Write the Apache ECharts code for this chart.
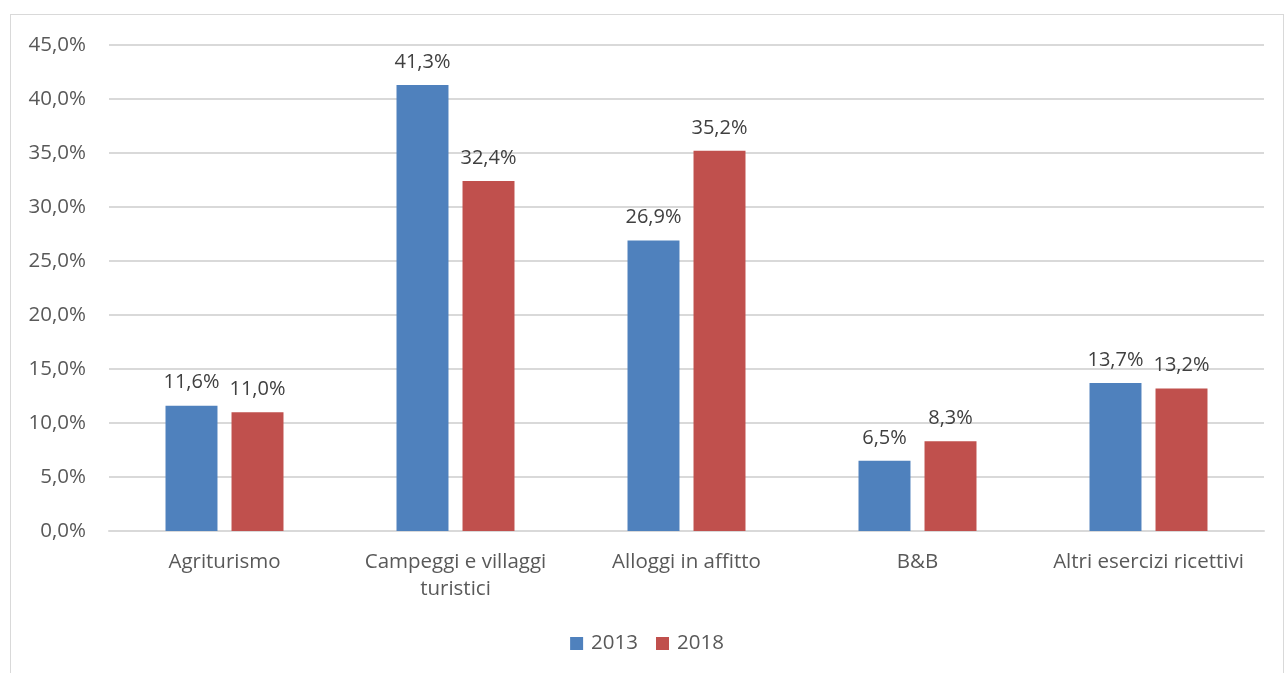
<!DOCTYPE html>
<html lang="it">
<head>
<meta charset="UTF-8">
<title>Distribuzione per tipologia ricettiva</title>
<script src="https://cdn.jsdelivr.net/npm/echarts@6/dist/echarts.min.js"></script>
<style>
html, body { margin: 0; padding: 0; background: #fff; }
body { width: 1285px; height: 673px; position: relative; overflow: hidden; font-family: 'Open Sans', 'Liberation Sans', sans-serif; }
#box {
  position: absolute; left: 10px; top: 14px; width: 1274px; height: 662px;
  border: 1px solid #d9d9d9; box-sizing: border-box; border-bottom: none;
}
#chart { width: 100%; height: 100%; }
</style>
</head>
<body>
<div id="box"><div id="chart"></div></div>
<script>
// dati
const categories = ['Agriturismo', 'Campeggi e villaggi\nturistici', 'Alloggi in affitto', 'B&B', 'Altri esercizi ricettivi'];
const years = ['2013', '2018'];
const values2013 = [11.6, 41.3, 26.9, 6.5, 13.7];
const values2018 = [11.0, 32.4, 35.2, 8.3, 13.2];
const yTicks = { min: 0, max: 45, interval: 5 };

const colors = ['#4F81BD', '#C0504D'];
const fmt = v => v.toFixed(1).replace('.', ',') + '%';

const chart = echarts.init(document.getElementById('chart'));

const labelStyle = {
  show: true,
  position: 'top',
  distance: 13,
  color: '#404040',
  fontSize: 20,
  fontFamily: 'Open Sans',
  formatter: p => fmt(p.value)
};

chart.setOption({
  animation: false,
  textStyle: { fontFamily: 'Open Sans' },
  grid: { left: 98, right: 19, top: 30, bottom: 145 },
  legend: {
    bottom: 17,
    left: 'center',
    itemWidth: 13,
    itemHeight: 13,
    itemGap: 18,
    icon: 'rect',
    textStyle: { color: '#595959', fontSize: 20.5, padding: [0, 0, 0, 3] },
    data: years
  },
  xAxis: {
    type: 'category',
    data: categories,
    axisTick: { show: false },
    axisLine: { lineStyle: { color: '#d9d9d9', width: 2 } },
    axisLabel: { color: '#595959', fontSize: 20.5, lineHeight: 27, margin: 18, interval: 0 }
  },
  yAxis: {
    type: 'value',
    min: yTicks.min,
    max: yTicks.max,
    interval: yTicks.interval,
    axisLine: { show: false },
    axisTick: { show: false },
    splitLine: { lineStyle: { color: '#d9d9d9', width: 2 } },
    axisLabel: { color: '#595959', fontSize: 20.5, margin: 23, formatter: fmt }
  },
  series: [
    {
      name: years[0], type: 'bar', data: values2013,
      barWidth: '22.5%', barGap: '27%',
      itemStyle: { color: colors[0] },
      label: labelStyle
    },
    {
      name: years[1], type: 'bar', data: values2018,
      barWidth: '22.5%',
      itemStyle: { color: colors[1] },
      label: labelStyle
    }
  ]
});
</script>
</body>
</html>
